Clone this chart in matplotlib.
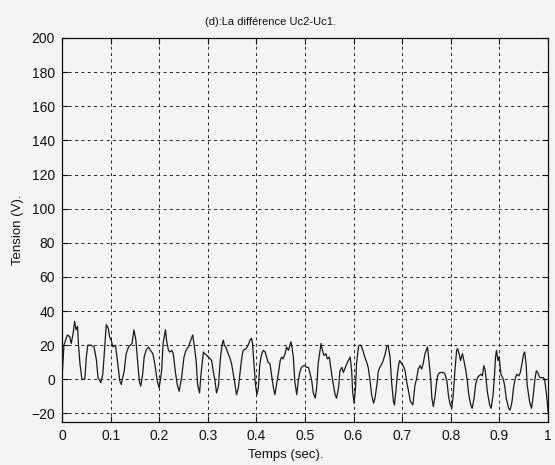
import numpy as np
import matplotlib.pyplot as plt

# Uc2 - Uc1 (time in s, voltage in V)
temps = [0, .004, .011, .016, .019, .023, .026, .029, .032, .034, .037, .041, .047, .050, .053,
         .060, .066, .071, .074, .080, .084, .088, .091, .095, .098, .101, .105, .110, .114, .119,
         .122, .128, .132, .137, .144,
         .148, .152, .155, .159, .162, .166, .169, .173, .178, .182, .187, .191, .196, .200, .205,
         .208, .213, .215, .219, .222, .226, .229, .233, .237, .241, .246, .251, .255, .260, .265,
         .269, .272, .276, .279, .283,
         .286, .291, .294, .298, .301, .305, .308, .311, .315, .318, .322, .325, .327, .330, .332,
         .334, .337, .342, .346, .349, .352, .356, .359, .363, .366, .370, .373, .379, .383, .387,
         .390, .392, .395, .398, .401, .404, .407, .411, .414, .418, .421, .424, .428, .431, .435,
         .438,
         .445, .449, .452, .455, .459, .462, .466, .469, .471, .473, .476, .479, .483, .486, .490,
         .493, .497, .500, .503, .507, .510, .514, .517, .521, .524, .527, .531, .533, .536, .539,
         .543, .546, .550, .553, .557, .562, .565, .569, .572, .576, .579, .583,
         .589, .593, .596, .598, .601, .604, .606, .610, .612, .615, .619, .623, .627, .630, .634,
         .637, .641, .644, .648, .651, .654, .658, .661, .665, .668, .671, .675, .678, .682, .684,
         .687, .690, .693, .695, .699, .702, .706, .709, .713, .717, .722,
         .726, .730, .733, .737, .740, .743, .747, .752, .755, .759, .761, .764, .767, .771, .774,
         .778, .785, .788, .792, .795, .798, .802, .805, .809, .812, .814, .817, .820, .824, .827,
         .831, .834, .837, .841, .844, .848, .851, .855, .858, .862, .865,
         .868, .871, .875, .880, .883, .887, .890, .892, .894, .897, .899, .901, .903, .905, .908,
         .911, .914, .919, .922, .926, .929, .933, .936, .940, .943, .947, .950, .952, .955, .957,
         .962, .966, .969, .973, .976, .979, .983, .990, .993, .997, 1.0]

tension = [0, 20, 26, 25, 21, 27, 34, 29, 31, 20, 9, 0, 0, 13, 20,
           20, 19, 11, 1, -2, 3, 19, 32, 30, 25, 23, 19, 20, 11, -1,
           -3, 5, 15, 19, 21,
           29, 23, 13, -1, -4, 3, 13, 17, 19, 17, 15, 9, -1, -5, 5,
           21, 29, 23, 17, 16, 17, 15, 5, -3, -7, 1, 13, 17, 19, 23,
           26, 20, 11, -3, -8,
           3, 16, 15, 14, 13, 12, 11, 5, -1, -8, -4, 9, 15, 21, 23,
           20, 19, 15, 12, 9, 4, -3, -9, -5, 3, 13, 17, 18, 20, 23,
           24, 21, 9, -3, -9, -5, 9, 15, 17, 16, 13, 10, 9, 3, -5,
           -9,
           3, 11, 13, 12, 15, 19, 17, 20, 22, 19, 13, -1, -9, -1, 5,
           7, 8, 8, 7, 7, 4, -1, -8, -11, -5, 9, 17, 21, 17, 14,
           15, 12, 13, 7, -1, -9, -11, -5, 5, 7, 4, 7,
           11, 13, 5, -7, -14, -5, 9, 19, 20, 20, 17, 13, 10, 7, -1,
           -9, -14, -11, -3, 5, 7, 9, 11, 15, 19, 20, 13, -1, -13, -15,
           -7, 3, 9, 11, 9, 8, 5, -1, -7, -13, -15,
           -4, 1, 6, 8, 6, 9, 15, 19, 11, -1, -11, -16, -11, -1, 3,
           4, 4, 3, -1, -9, -14, -17, -9, 7, 17, 18, 15, 11, 15, 11,
           5, -1, -9, -15, -17, -11, -3, 1, 2, 3, 2,
           8, 5, -7, -15, -17, -9, 3, 13, 17, 11, 13, 9, 3, 2, 0,
           -4, -11, -17, -18, -13, -5, 1, 3, 2, 4, 10, 15, 16, 9, -3,
           -13, -17, -11, 0, 5, 4, 1, 1, 0, -9, -19]

xticks = np.arange(0, 1.01, 0.1)
yticks = np.arange(-20, 201, 20)

plt.rcParams['font.family'] = ['Liberation Sans', 'DejaVu Sans']

fig = plt.figure(figsize=(5.55, 4.65), dpi=100, facecolor='#f4f4f3')
ax = fig.add_axes([0.1117, 0.0925, 0.8757, 0.8258], facecolor='#f4f4f3')

ax.plot(temps, tension, color='#1a1a1a', linewidth=0.9)

ax.set_xlim(0, 1)
ax.set_ylim(-25, 200)
ax.set_xticks(xticks)
ax.set_xticklabels(['0'] + ['%.1f' % x for x in xticks[1:-1]] + ['1'])
ax.set_yticks(yticks)
ax.tick_params(direction='in', length=4, width=0.8, top=True, right=True,
               labelsize=10, colors='#111111', pad=5)

ax.grid(True, color='#222222', linestyle=(0, (3, 3.5)), linewidth=0.7)
for s in ax.spines.values():
    s.set_color('#111111')
    s.set_linewidth(0.9)

ax.set_title('(d):La différence Uc2-Uc1.', fontsize=8, x=0.43, pad=9, color='#111111')
ax.set_xlabel('Temps (sec).', fontsize=9.5, color='#111111')
ax.xaxis.set_label_coords(0.46, -0.07)
ax.set_ylabel('Tension (V).', fontsize=9.5, color='#111111')
ax.yaxis.set_label_coords(-0.078, 0.5)

fig.savefig('out.png', dpi=100, facecolor=fig.get_facecolor())
